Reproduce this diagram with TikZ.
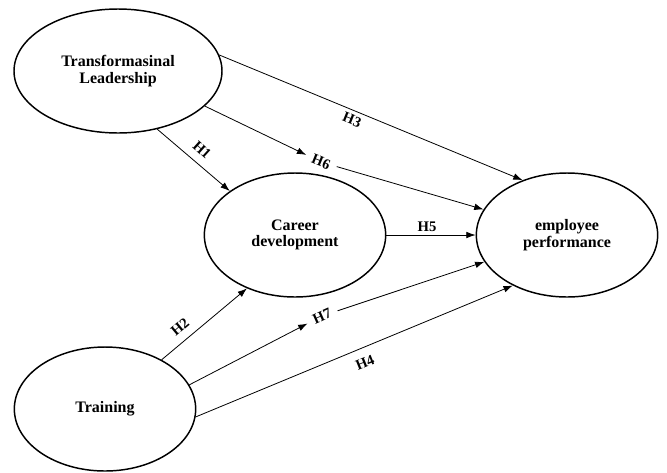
\documentclass[tikz,border=0pt]{standalone}
\usepackage{fontspec}
\setmainfont{Liberation Serif}
\usetikzlibrary{arrows.meta,shapes.geometric}

\begin{document}
\begin{tikzpicture}[
  x=0.75pt,y=-0.75pt,
  construct/.style={ellipse,draw,line width=1.1pt,inner sep=0pt,
                    minimum width=136pt,minimum height=93pt,align=center,
                    font=\fontsize{12}{12.5}\selectfont\bfseries},
  hyp/.style={font=\fontsize{11}{11}\selectfont\bfseries,inner sep=5pt},
  link/.style={-{Latex[length=7pt,width=5pt]},line width=0.6pt},
]
\useasboundingbox (0,0) rectangle (667,472);
% constructs
\node[construct,minimum width=156pt] (tl) at (118,71)  {Transformasinal\\Leadership};
\node[construct] (cd) at (295,235) {Career\\development};
\node[construct] (ep) at (567,235) {employee\\performance};
\node[construct] (tr) at (105,409) {Training};
% hypothesis labels
\node[hyp,rotate=-22] (h3) at (352,120) {H3};
\node[hyp,rotate=-42] (h1) at (202,150) {H1};
\node[hyp,rotate=-22] (h6) at (321,162) {H6};
\node[hyp]            (h5) at (427,227) {H5};
\node[hyp,rotate=40]  (h2) at (180,327) {H2};
\node[hyp,rotate=24]  (h7) at (322,316) {H7};
\node[hyp,rotate=22]  (h4) at (365,363) {H4};
% paths
\draw[link] (tl.9)     -- (ep.129.5);
\draw[link] (tl.-56)   -- (cd.146.5);
\draw[link] (tl.-22.6) -- (h6);
\draw[link] (h6)       -- (ep.163);
\draw[link] (cd.east)  -- (ep.west);
\draw[link] (tr.41.8)  -- (cd.228);
\draw[link] (tr.16)    -- (h7);
\draw[link] (h7)       -- (ep.198);
\draw[link] (tr.-5)    -- (ep.223);
\end{tikzpicture}
\end{document}
